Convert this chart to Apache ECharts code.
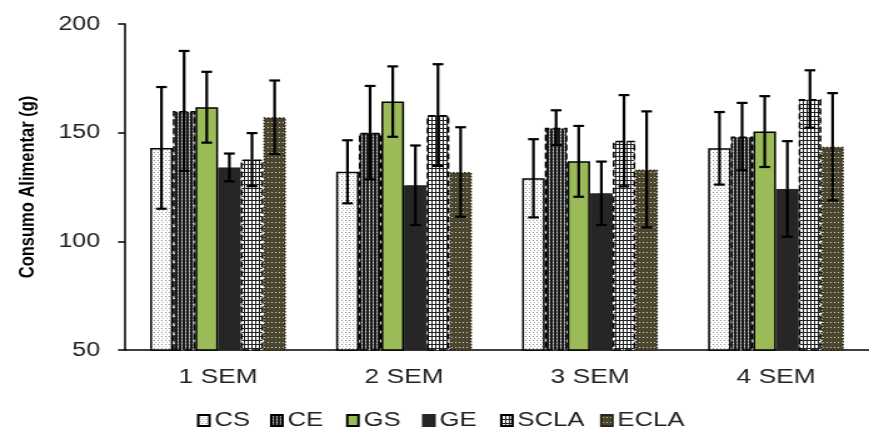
<!DOCTYPE html>
<html>
<head>
<meta charset="utf-8">
<script src="https://cdn.jsdelivr.net/npm/echarts@6/dist/echarts.min.js"></script>
<style>
html,body{margin:0;padding:0;background:#fff;overflow:hidden}
#wrap{width:869px;height:432px;overflow:hidden}
#c{width:695px;height:432px;transform:scaleX(1.2504);transform-origin:0 0}
</style>
</head>
<body>
<div id="wrap"><div id="c"></div></div>
<script>
var categories = ['1 SEM', '2 SEM', '3 SEM', '4 SEM'];
var seriesNames = ['CS', 'CE', 'GS', 'GE', 'SCLA', 'ECLA'];
var CS   = [143.0, 132.0, 129.0, 142.8];
var CE   = [160.0, 150.0, 152.3, 148.2];
var GS   = [161.7, 164.3, 136.8, 150.5];
var GE   = [134.0, 125.8, 122.1, 124.1];
var SCLA = [137.6, 158.1, 146.3, 165.5];
var ECLA = [157.1, 131.9, 133.1, 143.5];
var CS_err   = [28.0, 14.5, 18.0, 16.7];
var CE_err   = [27.6, 21.5, 8.0, 15.5];
var GS_err   = [16.3, 16.2, 16.3, 16.3];
var GE_err   = [6.4, 18.3, 14.6, 22.0];
var SCLA_err = [12.2, 23.4, 21.0, 13.2];
var ECLA_err = [16.9, 20.6, 26.7, 24.7];
var yTicks = [50, 100, 150, 200];

var values = [CS, CE, GS, GE, SCLA, ECLA];
var errors = [CS_err, CE_err, GS_err, GE_err, SCLA_err, ECLA_err];

var SX = 1.2504;
var legendLeft = [197, 270, 346, 422, 500, 600];

function pattern(w, h, draw) {
  var c = document.createElement('canvas');
  c.width = w; c.height = h;
  var ctx = c.getContext('2d');
  draw(ctx);
  return { image: c, repeat: 'repeat' };
}
var fills = [
  pattern(3, 4, function (g) { g.fillStyle = '#fff'; g.fillRect(0, 0, 3, 4); g.fillStyle = '#8a8a8a'; g.fillRect(0, 0, 1, 1); g.fillStyle = '#b5b5b5'; g.fillRect(1, 2, 1, 1); }),
  pattern(3, 3, function (g) { g.fillStyle = '#1a1a1a'; g.fillRect(0, 0, 3, 3); g.fillStyle = '#8a8a8a'; g.fillRect(1, 0, 1, 3); g.fillStyle = '#d5d5d5'; g.fillRect(1, 1, 1, 1); }),
  '#9BBB59',
  '#262626',
  pattern(3, 4, function (g) { g.fillStyle = '#fff'; g.fillRect(0, 0, 3, 4); g.fillStyle = '#222'; g.fillRect(0, 0, 3, 1); g.fillRect(0, 0, 1, 4); }),
  pattern(3, 5, function (g) { g.fillStyle = '#4B4630'; g.fillRect(0, 0, 3, 5); g.fillStyle = '#d8d2b0'; g.fillRect(1, 2, 1, 1); })
];
var borders = [
  { borderColor: '#000', borderWidth: 1.5, borderType: 'solid' },
  { borderColor: '#000', borderWidth: 1.5, borderType: 'dashed' },
  { borderColor: '#000', borderWidth: 1.5, borderType: 'solid' },
  { borderColor: '#262626', borderWidth: 1, borderType: 'solid' },
  { borderColor: '#000', borderWidth: 1.5, borderType: 'dashed' },
  { borderColor: '#2a2618', borderWidth: 1.5, borderType: 'dotted' }
];

var CAT_GAP = 0.27;
var series = [];
seriesNames.forEach(function (name, i) {
  series.push({
    name: name,
    type: 'bar',
    data: values[i],
    barGap: '0%',
    barCategoryGap: (CAT_GAP * 100) + '%',
    itemStyle: Object.assign({ color: fills[i] }, borders[i]),
    z: 2
  });
});
var errData = [];
seriesNames.forEach(function (name, i) {
  categories.forEach(function (c, j) {
    errData.push([j, values[i][j] - errors[i][j], values[i][j] + errors[i][j], i]);
  });
});
series.push({
  type: 'custom',
  name: 'err',
  data: errData,
  z: 10,
  renderItem: function (params, api) {
    var j = api.value(0), lo = api.value(1), hi = api.value(2), s = api.value(3);
    var band = api.size([1, 0])[0];
    var bw = band * (1 - CAT_GAP) / seriesNames.length;
    var center = api.coord([j, lo])[0];
    var x = center + (s - (seriesNames.length - 1) / 2) * bw;
    var yl = api.coord([j, lo])[1], yh = api.coord([j, hi])[1];
    var cap = 4.3;
    var st = { stroke: '#000', lineWidth: 2.2 };
    return {
      type: 'group',
      children: [
        { type: 'line', shape: { x1: x, y1: yl, x2: x, y2: yh }, style: st },
        { type: 'line', shape: { x1: x - cap, y1: yl, x2: x + cap, y2: yl }, style: st },
        { type: 'line', shape: { x1: x - cap, y1: yh, x2: x + cap, y2: yh }, style: st }
      ]
    };
  },
  encode: { x: 0, y: [1, 2] }
});

var FONT = 'Liberation Sans, Arial, sans-serif';
var legends = seriesNames.map(function (name, i) {
  return {
    data: [name],
    top: 410,
    left: legendLeft[i] / SX,
    padding: 0,
    itemWidth: 9,
    itemHeight: 11,
    itemGap: 0,
    icon: 'rect',
    textStyle: { fontSize: 20.5, color: '#222', fontFamily: FONT, padding: [0, 0, 0, -1] }
  };
});

var chart = echarts.init(document.getElementById('c'));
chart.setOption({
  animation: false,
  backgroundColor: '#fff',
  textStyle: { fontFamily: FONT },
  grid: { left: 100, top: 24, bottom: 82, width: 604.8 },
  legend: legends,
  xAxis: {
    type: 'category',
    data: categories,
    axisLine: { lineStyle: { color: '#000', width: 1.5 } },
    axisTick: { show: false },
    axisLabel: { fontSize: 21, color: '#222', margin: 17 }
  },
  yAxis: {
    type: 'value',
    min: yTicks[0],
    max: yTicks[yTicks.length - 1],
    interval: 50,
    name: 'Consumo Alimentar (g)',
    nameLocation: 'middle',
    nameGap: 69,
    nameTextStyle: { fontSize: 16.5, fontWeight: 'bold', color: '#000' },
    axisLine: { show: true, lineStyle: { color: '#000', width: 1.5 } },
    axisTick: { show: true, length: 5.6, lineStyle: { color: '#000', width: 1.5 } },
    splitLine: { show: false },
    axisLabel: { fontSize: 20, color: '#222', margin: 20 }
  },
  series: series
});
</script>
</body>
</html>
